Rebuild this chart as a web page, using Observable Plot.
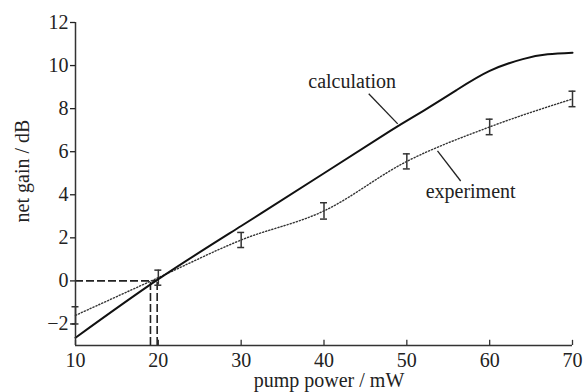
<!DOCTYPE html>
<html>
<head>
<meta charset="utf-8">
<script src="https://cdn.jsdelivr.net/npm/d3@7"></script>
<script src="https://cdn.jsdelivr.net/npm/@observablehq/plot@0.6"></script>
<style>
  html, body { margin: 0; padding: 0; background: #fff; }
  #chart svg { display: block; }
  #chart svg, #chart svg text, #chart svg g {
    font-family: "Liberation Serif", Tinos, Times, "DejaVu Serif" !important;
  }
</style>
</head>
<body>
<div id="chart"></div>
<script>
// ---- data ----
const calcPower = [10, 20, 30, 40, 48, 52, 56, 60, 64, 67, 70];
const calcGain  = [-2.64, 0.08, 2.55, 5.0, 6.97, 7.9, 8.86, 9.75, 10.3, 10.52, 10.6];

const expPower = [10, 20, 30, 40, 50, 60, 70];
const expGain  = [-1.6, 0.15, 1.9, 3.25, 5.55, 7.15, 8.45];
const expErr   = [0.4, 0.35, 0.35, 0.38, 0.35, 0.36, 0.36];

const thresholdPower = [19.05, 19.86];
const xTicks = [10, 20, 30, 40, 50, 60, 70];
const yTicks = [-2, 0, 2, 4, 6, 8, 10, 12];
const xDomain = [10, 70];
const yDomain = [-3, 12];

const labels = [
  {text: "calculation", x: 43.4, y: 8.95, px1: 45.4, py1: 8.69, px2: 48.9, py2: 7.29},
  {text: "experiment",  x: 57.7, y: 3.85, px1: 53.7, py1: 6.04, px2: 56.5, py2: 4.64}
];
const xLabel = "pump power / mW";
const yLabel = "net gain / dB";

// ---- tables ----
const calc = calcPower.map((x, i) => ({x, y: calcGain[i]}));
const exp = expPower.map((x, i) => ({x, y: expGain[i], e: expErr[i]}));
const capHalf = 0.42;

const font = "Liberation Serif, Tinos, Times, DejaVu Serif";

const chart = Plot.plot({
  width: 583,
  height: 392,
  marginTop: 22,
  marginBottom: 47,
  marginLeft: 75,
  marginRight: 11,
  style: {fontFamily: font, fontSize: "20px", background: "#fff", color: "#222"},
  x: {domain: xDomain},
  y: {domain: yDomain},
  marks: [
    // dashed threshold guides
    Plot.ruleY([0], {x1: xDomain[0], x2: thresholdPower[1], stroke: "#222", strokeWidth: 1.6, strokeDasharray: "8,3"}),
    Plot.ruleX(thresholdPower, {y1: yDomain[0], y2: 0, stroke: "#222", strokeWidth: 1.6, strokeDasharray: "8,3"}),
    // experiment dotted line
    Plot.line(exp, {x: "x", y: "y", curve: "monotone-x", stroke: "#333", strokeWidth: 1.4, strokeDasharray: "1.2,2"}),
    // error bars
    Plot.ruleX(exp, {x: "x", y1: d => d.y - d.e, y2: d => d.y + d.e, stroke: "#333", strokeWidth: 1.5}),
    Plot.ruleY(exp, {y: d => d.y - d.e, x1: d => d.x - capHalf, x2: d => d.x + capHalf, stroke: "#333", strokeWidth: 1.5}),
    Plot.ruleY(exp, {y: d => d.y + d.e, x1: d => d.x - capHalf, x2: d => d.x + capHalf, stroke: "#333", strokeWidth: 1.5}),
    // calculation line
    Plot.line(calc, {x: "x", y: "y", curve: "natural", stroke: "#111", strokeWidth: 2}),
    // annotations
    Plot.link(labels, {x1: "px1", y1: "py1", x2: "px2", y2: "py2", stroke: "#222", strokeWidth: 1.3}),
    Plot.text(labels, {x: "x", y: "y", text: "text", lineAnchor: "bottom", fill: "#222", fontSize: 20, fontFamily: font}),
    // axes
    Plot.ruleX([xDomain[0]], {stroke: "#333", strokeWidth: 1.5}),
    Plot.ruleY([yDomain[0]], {stroke: "#333", strokeWidth: 1.5}),
    Plot.ruleX(xTicks, {y1: yDomain[0], y2: yDomain[0] + 0.24, stroke: "#333", strokeWidth: 1.3}),
    Plot.axisX({ticks: xTicks, tickSize: 0, tickPadding: 7, label: null, tickFormat: d => String(d), fontSize: 20, fontFamily: font}),
    Plot.axisY({ticks: yTicks, tickSize: 5, tickPadding: 2, label: null, fontSize: 20, strokeWidth: 1.3, fontFamily: font}),
    Plot.text([xLabel], {frameAnchor: "bottom", dy: 41, dx: 5, lineAnchor: "bottom", fontSize: 20, fill: "#222", fontFamily: font}),
    Plot.text([yLabel], {frameAnchor: "left", dx: -53, dy: -13, rotate: -90, lineAnchor: "middle", textAnchor: "middle", fontSize: 20, fill: "#222", fontFamily: font})
  ]
});
document.getElementById("chart").append(chart);
</script>
</body>
</html>
